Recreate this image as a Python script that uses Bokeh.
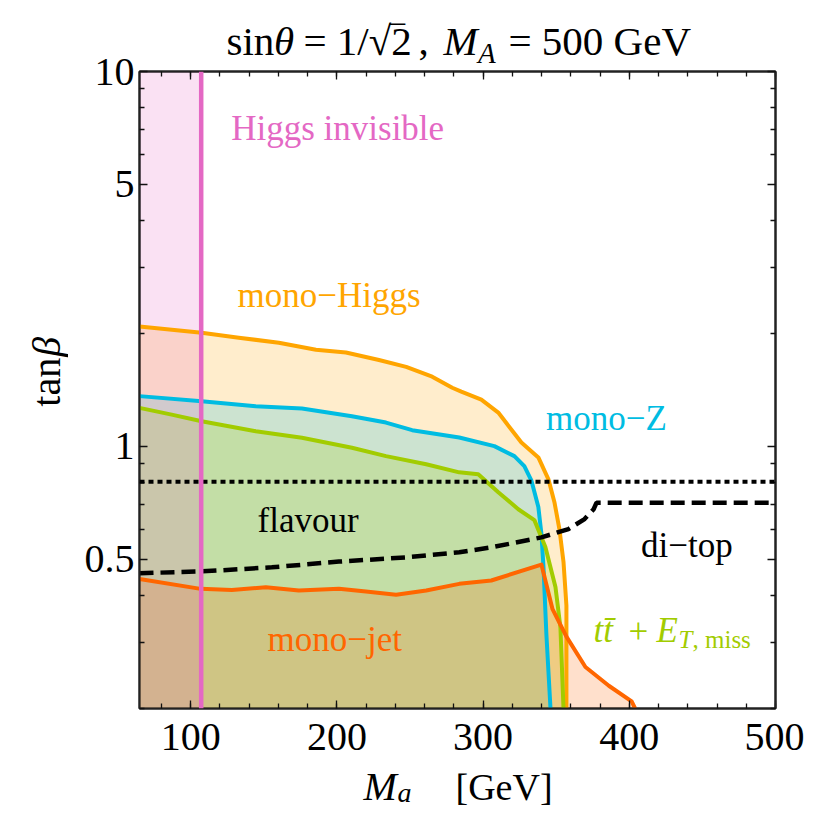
import numpy as np
from bokeh.plotting import figure
from bokeh.layouts import column, row
from bokeh.models import (Label, Span, LinearAxis, LogAxis, SingleIntervalTicker,
                          FixedTicker, NumeralTickFormatter, CustomJSTickFormatter, Range1d)
from bokeh.embed import file_html
from bokeh.resources import INLINE

# ---------------- data ----------------
X_RANGE = (65, 500)
Y_RANGE = (0.2, 10)

X_MAJOR = 100
Y_TICKS = [0.5, 1, 5, 10]
Y_MINOR = [0.2, 0.3, 0.4, 0.6, 0.7, 0.8, 0.9, 2, 3, 4, 6, 7, 8, 9]

# mono-Higgs exclusion boundary
MONOH_MA = [65, 107.5, 132.9, 160.3, 185.7, 206.2, 228.8, 247.4, 265.2, 278.9, 285.1,
            298.8, 310.4, 319.3, 326.2, 337.8, 344.7, 348.8, 352.2, 355.0, 357.0, 357.0]
MONOH_TB = [2.09, 2.01, 1.95, 1.89, 1.81, 1.78, 1.70, 1.63, 1.535, 1.434, 1.40,
            1.333, 1.231, 1.11, 1.025, 0.935, 0.817, 0.71, 0.602, 0.492, 0.376, 0.2]

# mono-Z exclusion boundary
MONOZ_MA = [65, 107.5, 144.5, 176.1, 210.3, 233.6, 251.5, 283.7, 307.7, 321.4, 328.2,
            333.0, 337.8, 339.9, 341.3, 343.3, 346.1]
MONOZ_TB = [1.362, 1.319, 1.280, 1.262, 1.204, 1.158, 1.105, 1.056, 1.002, 0.942, 0.886,
            0.812, 0.689, 0.584, 0.477, 0.315, 0.2]

# tt + MET exclusion boundary
TTMET_MA = [65, 87.0, 107.5, 144.5, 176.1, 210.3, 233.6, 261.1, 283.7, 296.7, 310.4,
            324.1, 335.1, 342.6, 349.5, 352.9, 355.0]
TTMET_TB = [1.267, 1.216, 1.167, 1.098, 1.055, 0.992, 0.942, 0.896, 0.853, 0.843, 0.755,
            0.680, 0.636, 0.539, 0.422, 0.329, 0.2]

# mono-jet exclusion boundary
MONOJ_MA = [65, 106.8, 128.1, 151.4, 174.0, 201.4, 219.9, 240.5, 261.1, 283.7, 305.6,
            339.9, 347.5, 357.0, 370.0, 386.0, 401.6, 404.0]
MONOJ_TB = [0.443, 0.417, 0.414, 0.421, 0.413, 0.417, 0.410, 0.402, 0.413, 0.430, 0.439,
            0.484, 0.368, 0.311, 0.258, 0.230, 0.209, 0.2]

# di-top bound
DITOP_MA = [65, 106.8, 155.5, 201.4, 247.4, 283.7, 305.6, 339.9, 358.4, 369.4, 375.6,
            377.6, 500]
DITOP_TB = [0.459, 0.464, 0.476, 0.493, 0.506, 0.522, 0.538, 0.572, 0.602, 0.640, 0.680,
            0.708, 0.708]

FLAVOUR_TB = 0.805     # flavour bound on tan(beta)
HINV_MA = 107.2        # Higgs invisible bound on M_a

# ---------------- styles / layout ----------------
C_ORANGE = "#FFA500"
C_CYAN = "#00BCE2"
C_GREEN = "#A2CC00"
C_RED = "#FF6600"
C_PINK = "#E468C4"
FONT = "Liberation Serif"
FILL_ALPHA = 0.2
BASE_SHIFT = 0.27      # empirical baseline correction (fraction of font size)

W, H = 804, 808
FRAME_L, FRAME_R, FRAME_T, FRAME_B = 139, 775, 71, 708   # frame in page pixels
TOP_H, OV_T = 70, 24      # title strip height and overlap with the main figure
BOT_H, OV_B = 46, 12      # x-label strip height and overlap
LEFT_W = 68               # y-label strip width

MAIN_TOP = TOP_H - OV_T            # page y where main figure starts
MAIN_BOT = H - BOT_H + OV_B        # page y where main figure ends
MAIN_W = W - LEFT_W
MAIN_H = MAIN_BOT - MAIN_TOP


def ref_x(px):
    return X_RANGE[0] + (px - FRAME_L) * (X_RANGE[1] - X_RANGE[0]) / (FRAME_R - FRAME_L)


def ref_y(py):
    l0, l1 = np.log10(Y_RANGE[0]), np.log10(Y_RANGE[1])
    return float(10 ** (l1 - (py - FRAME_T) * (l1 - l0) / (FRAME_B - FRAME_T)))


p = figure(width=MAIN_W, height=MAIN_H, x_range=X_RANGE, y_range=Y_RANGE, y_axis_type="log",
           output_backend="svg", toolbar_location=None,
           min_border_left=FRAME_L - LEFT_W, min_border_right=W - FRAME_R,
           min_border_top=FRAME_T - MAIN_TOP, min_border_bottom=MAIN_BOT - FRAME_B)
p.xgrid.visible = False
p.ygrid.visible = False
p.outline_line_color = "#222222"
p.outline_line_width = 2
p.background_fill_color = "white"
p.border_fill_color = None

xt = SingleIntervalTicker(interval=X_MAJOR, num_minor_ticks=5)
yt = FixedTicker(ticks=Y_TICKS, minor_ticks=Y_MINOR)


def style_axis(ax):
    ax.axis_line_color = "#222222"
    ax.axis_line_width = 2
    ax.major_tick_in = 8
    ax.major_tick_out = 0
    ax.minor_tick_in = 5
    ax.minor_tick_out = 0
    ax.major_tick_line_color = "#111111"
    ax.minor_tick_line_color = "#111111"
    ax.major_tick_line_width = 1.3
    ax.minor_tick_line_width = 1.3
    ax.major_label_text_font = FONT
    ax.major_label_text_color = "black"
    ax.major_label_text_font_size = "40px"


p.xaxis.ticker = xt
p.yaxis.ticker = yt
p.yaxis.formatter = NumeralTickFormatter(format="0.[0]")
style_axis(p.xaxis[0])
style_axis(p.yaxis[0])
p.xaxis.major_label_standoff = 15
p.yaxis.major_label_standoff = 5

blank = CustomJSTickFormatter(code="return ''")
top_ax = LinearAxis(ticker=xt, formatter=blank)
style_axis(top_ax)
top_ax.major_label_standoff = 0
p.add_layout(top_ax, "above")
right_ax = LogAxis(ticker=yt, formatter=blank)
style_axis(right_ax)
right_ax.major_label_standoff = 0
p.add_layout(right_ax, "right")

# ---------------- fills ----------------
def fill_under(xs, ys, color):
    px = list(xs) + [xs[-1], xs[0]]
    py = list(ys) + [Y_RANGE[0], Y_RANGE[0]]
    p.patch(px, py, fill_color=color, fill_alpha=FILL_ALPHA, line_color=None)


fill_under(MONOH_MA, MONOH_TB, C_ORANGE)
fill_under(MONOZ_MA, MONOZ_TB, C_CYAN)
fill_under(TTMET_MA, TTMET_TB, C_GREEN)
fill_under(MONOJ_MA, MONOJ_TB, C_RED)
p.quad(left=X_RANGE[0], right=HINV_MA, bottom=Y_RANGE[0], top=Y_RANGE[1],
       fill_color=C_PINK, fill_alpha=FILL_ALPHA, line_color=None)

# ---------------- lines ----------------
LW = 4
p.line(MONOH_MA, MONOH_TB, line_color=C_ORANGE, line_width=LW, line_join="round")
p.line(MONOZ_MA, MONOZ_TB, line_color=C_CYAN, line_width=LW, line_join="round")
p.line(TTMET_MA, TTMET_TB, line_color=C_GREEN, line_width=LW, line_join="round")
p.line(MONOJ_MA, MONOJ_TB, line_color=C_RED, line_width=LW, line_join="round")
p.line(DITOP_MA, DITOP_TB, line_color="black", line_width=4.5, line_dash="14 7")

p.add_layout(Span(location=FLAVOUR_TB, dimension="width", line_color="black",
                  line_width=4, line_dash="5 4"))
p.add_layout(Span(location=HINV_MA, dimension="height", line_color=C_PINK, line_width=4.5))


# ---------------- texts ----------------
def lab(fig, text, x, y, size, color="black", style="normal", angle=0.0):
    fig.add_layout(Label(x=x, y=y, text=text, text_font=FONT,
                         text_font_size=f"{size}px", text_color=color,
                         text_font_style=style, text_align="left",
                         text_baseline="alphabetic", angle=angle))


def plab(text, px, py, size, color="black", style="normal"):
    lab(p, text, ref_x(px), ref_y(py - BASE_SHIFT * size), size, color, style)


plab("Higgs invisible", 230.7, 137, 35, C_PINK)
plab("mono\u2212Higgs", 237, 304, 35, C_ORANGE)
plab("mono\u2212Z", 545.5, 427, 35, C_CYAN)
plab("flavour", 257, 529.5, 35)
plab("di\u2212top", 640.5, 554, 35)
plab("mono\u2212jet", 267, 648, 35, C_RED)
plab("tt\u0304", 593, 639.5, 35, C_GREEN, "italic")
plab("+", 628, 639.5, 35, C_GREEN)
plab("E", 656, 639.5, 35, C_GREEN, "italic")
plab("T", 678, 646, 25, C_GREEN, "italic")
plab(", miss", 692, 646, 25, C_GREEN)


def text_fig(w, h, transparent=False):
    f = figure(width=w, height=h, x_range=Range1d(0, w), y_range=Range1d(0, h),
               x_axis_location=None, y_axis_location=None, output_backend="svg",
               toolbar_location=None, min_border=0)
    f.outline_line_color = None
    f.xgrid.visible = False
    f.ygrid.visible = False
    f.background_fill_color = None if transparent else "white"
    f.border_fill_color = None if transparent else "white"
    return f


# title strip (page y 0..TOP_H)
top = text_fig(W, TOP_H)
TS = 41


def tlab(text, px, py, size, style="normal"):
    lab(top, text, px, TOP_H - (py - BASE_SHIFT * size), size, style=style)


tlab("sin", 226, 52, TS)
tlab("\u03b8", 273.5, 52, TS, "italic")
tlab("= 1/\u221a2", 303, 52, TS)
tlab("\u203e", 390, 52, TS)
tlab(",", 418, 52, TS)
tlab("M", 443, 52, TS, "italic")
tlab("A", 477.5, 60, 29, "italic")
tlab("= 500 GeV", 508, 52, TS)

# y-label strip (page x 0..LEFT_W, y MAIN_TOP..MAIN_BOT), text rotated 90 degrees
left = text_fig(LEFT_W, MAIN_H)


def llab(text, px, py, style="normal"):
    lab(left, text, px - BASE_SHIFT * 40, MAIN_BOT - py, 40, style=style, angle=np.pi / 2)


llab("tan", 57, 429)
llab("\u03b2", 57, 372, "italic")

# x-label strip (page y H-BOT_H..H), transparent so it can overlap the main border
bot = text_fig(W, BOT_H, transparent=True)


def blab(text, px, py, size, style="normal"):
    lab(bot, text, px, H - (py - BASE_SHIFT * size), size, style=style)


blab("M", 363, 797, 40, "italic")
blab("a", 397, 800, 28, "italic")
blab("[GeV]", 455, 797, 38)

middle = row(left, p, margin=(-OV_T, 0, 0, 0))
bot.margin = (-OV_B, 0, 0, 0)
layout = column(top, middle, bot)
open("out.html", "w").write(file_html(layout, INLINE))
